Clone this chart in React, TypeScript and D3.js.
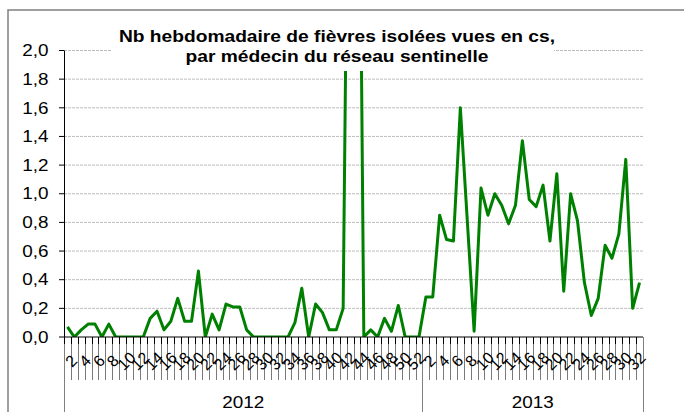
import React from "react";
import * as d3 from "d3";

const weeks2012 = ["1","2","3","4","5","6","7","8","9","10","11","12","13","14","15","16","17","18","19","20","21","22","23","24","25","26","27","28","29","30","31","32","33","34","35","36","37","38","39","40","41","42","43","44","45","46","47","48","49","50","51","52"];
const weeks2013 = ["1","2","3","4","5","6","7","8","9","10","11","12","13","14","15","16","17","18","19","20","21","22","23","24","25","26","27","28","29","30","31","32"];
const values2012 = [0.07, 0, 0.05, 0.09, 0.09, 0, 0.09, 0, 0, 0, 0, 0, 0.13, 0.18, 0.05, 0.11, 0.27, 0.11, 0.11, 0.46, 0, 0.16, 0.05, 0.23, 0.21, 0.21, 0.05, 0, 0, 0, 0, 0, 0, 0.10, 0.34, 0, 0.23, 0.17, 0.05, 0.05, 0.20, 5.0, 5.5, 0, 0.05, 0, 0.13, 0.04, 0.22, 0, 0, 0];
const values2013 = [0.28, 0.28, 0.85, 0.68, 0.67, 1.6, 0.82, 0.04, 1.04, 0.85, 1.0, 0.92, 0.79, 0.92, 1.37, 0.96, 0.91, 1.06, 0.67, 1.14, 0.32, 1.0, 0.81, 0.38, 0.15, 0.27, 0.64, 0.55, 0.72, 1.24, 0.2, 0.38];
const years = ["2012", "2013"];
const yTicks = [0, 0.2, 0.4, 0.6, 0.8, 1.0, 1.2, 1.4, 1.6, 1.8, 2.0];
const titleLines = ["Nb hebdomadaire de fièvres isolées vues en cs,", "par médecin du réseau sentinelle"];

const W = 684, H = 412;
const L = 64, R = 643, T = 50.5, B = 337;
const SX = 1.18;
const FONT = "'Liberation Sans', Arial, sans-serif";

type Pt = { key: string; week: string; year: string; value: number };

export default function App() {
  const data: Pt[] = [
    ...values2012.map((v, i) => ({ key: "2012-" + weeks2012[i], week: weeks2012[i], year: years[0], value: v })),
    ...values2013.map((v, i) => ({ key: "2013-" + weeks2013[i], week: weeks2013[i], year: years[1], value: v })),
  ];
  const x = d3.scaleBand<string>().domain(data.map((d) => d.key)).range([L, R]).padding(0);
  const bw = x.bandwidth();
  const y = d3.scaleLinear().domain([0, 2]).range([B, T]);
  const line = d3.line<Pt>().x((d) => (x(d.key) as number) + bw / 2).y((d) => y(d.value));
  const fmt = (v: number) => d3.format(".1f")(v).replace(".", ",");
  const sepX = L + weeks2012.length * bw;
  const yearSpans = [
    [L, sepX],
    [sepX, R],
  ];
  const px = (v: number) => Math.round(v) + 0.5;

  return (
    <svg width={W} height={H} style={{ position: "fixed", left: 0, top: 0, background: "#fff" }} fontFamily={FONT}>
      <defs>
        <clipPath id="plotclip">
          <rect x={L} y={T} width={R - L} height={B - T} />
        </clipPath>
      </defs>
      <rect x={0} y={0} width={W} height={H} fill="#fff" />
      {/* outer border */}
      <rect x={8} y={10} width={W + 20} height={H + 20} fill="none" stroke="#808080" strokeWidth={1.5} />
      {/* gridlines */}
      {yTicks.filter((t) => t > 0).map((t) => (
        <line key={"g" + t} x1={L} x2={R} y1={y(t)} y2={y(t)} stroke="#bdbdbd" strokeWidth={1} strokeDasharray="3,1" />
      ))}
      {/* category separators */}
      {data.map((d, i) => (
        <line key={"s" + i} x1={px(L + i * bw)} x2={px(L + i * bw)} y1={B} y2={380} stroke="#7a7a7a" strokeWidth={1} />
      ))}
      <line x1={px(R)} x2={px(R)} y1={B} y2={380} stroke="#7a7a7a" strokeWidth={1} />
      {/* year separators */}
      {[L, sepX, R].map((sx, i) => (
        <line key={"ys" + i} x1={px(sx)} x2={px(sx)} y1={B} y2={H} stroke="#808080" strokeWidth={1} />
      ))}
      {/* tick marks on x axis */}
      {data.map((d, i) => (
        <line key={"t" + i} x1={px(L + i * bw)} x2={px(L + i * bw)} y1={B} y2={B + 7} stroke="#000" strokeWidth={1} />
      ))}
      {/* week labels */}
      {data.map((d, i) =>
        +d.week % 2 === 0 ? (
          <text
            key={"wl" + i}
            transform={`translate(${(x(d.key) as number) + bw / 2 - 3},${361}) rotate(-45)`}
            textAnchor="middle"
            dominantBaseline="central"
            fontSize={16}
            fill="#000"
          >
            {d.week}
          </text>
        ) : null
      )}
      {/* year labels */}
      {years.map((yr, i) => (
        <text
          key={"yr" + yr}
          transform={`translate(${(yearSpans[i][0] + yearSpans[i][1]) / 2},${408}) scale(${SX},1)`}
          textAnchor="middle"
          fontSize={16}
          fill="#000"
        >
          {yr}
        </text>
      ))}
      {/* y axis */}
      <line x1={px(L)} x2={px(L)} y1={T} y2={B} stroke="#000" strokeWidth={1} />
      {yTicks.map((t) => (
        <g key={"yt" + t}>
          <line x1={L - 5} x2={L} y1={y(t)} y2={y(t)} stroke="#000" strokeWidth={1} />
          <text
            transform={`translate(${48.5},${y(t) + 5.7}) scale(${SX},1)`}
            textAnchor="end"
            fontSize={16}
            fill="#000"
          >
            {fmt(t)}
          </text>
        </g>
      ))}
      {/* data line */}
      <path d={line(data) || ""} fill="none" stroke="#008000" strokeWidth={3} strokeLinejoin="round" clipPath="url(#plotclip)" />
      {/* x axis */}
      <line x1={L} x2={R} y1={B} y2={B} stroke="#000" strokeWidth={1} />
      {/* title */}
      <rect x={111} y={20} width={443} height={51} fill="#fff" />
      {titleLines.map((tl, i) => (
        <text
          key={"tl" + i}
          transform={`translate(${337},${42 + i * 19.5}) scale(${SX + 0.02},1)`}
          textAnchor="middle"
          fontSize={16}
          fontWeight="bold"
          fill="#000"
        >
          {tl}
        </text>
      ))}
    </svg>
  );
}
